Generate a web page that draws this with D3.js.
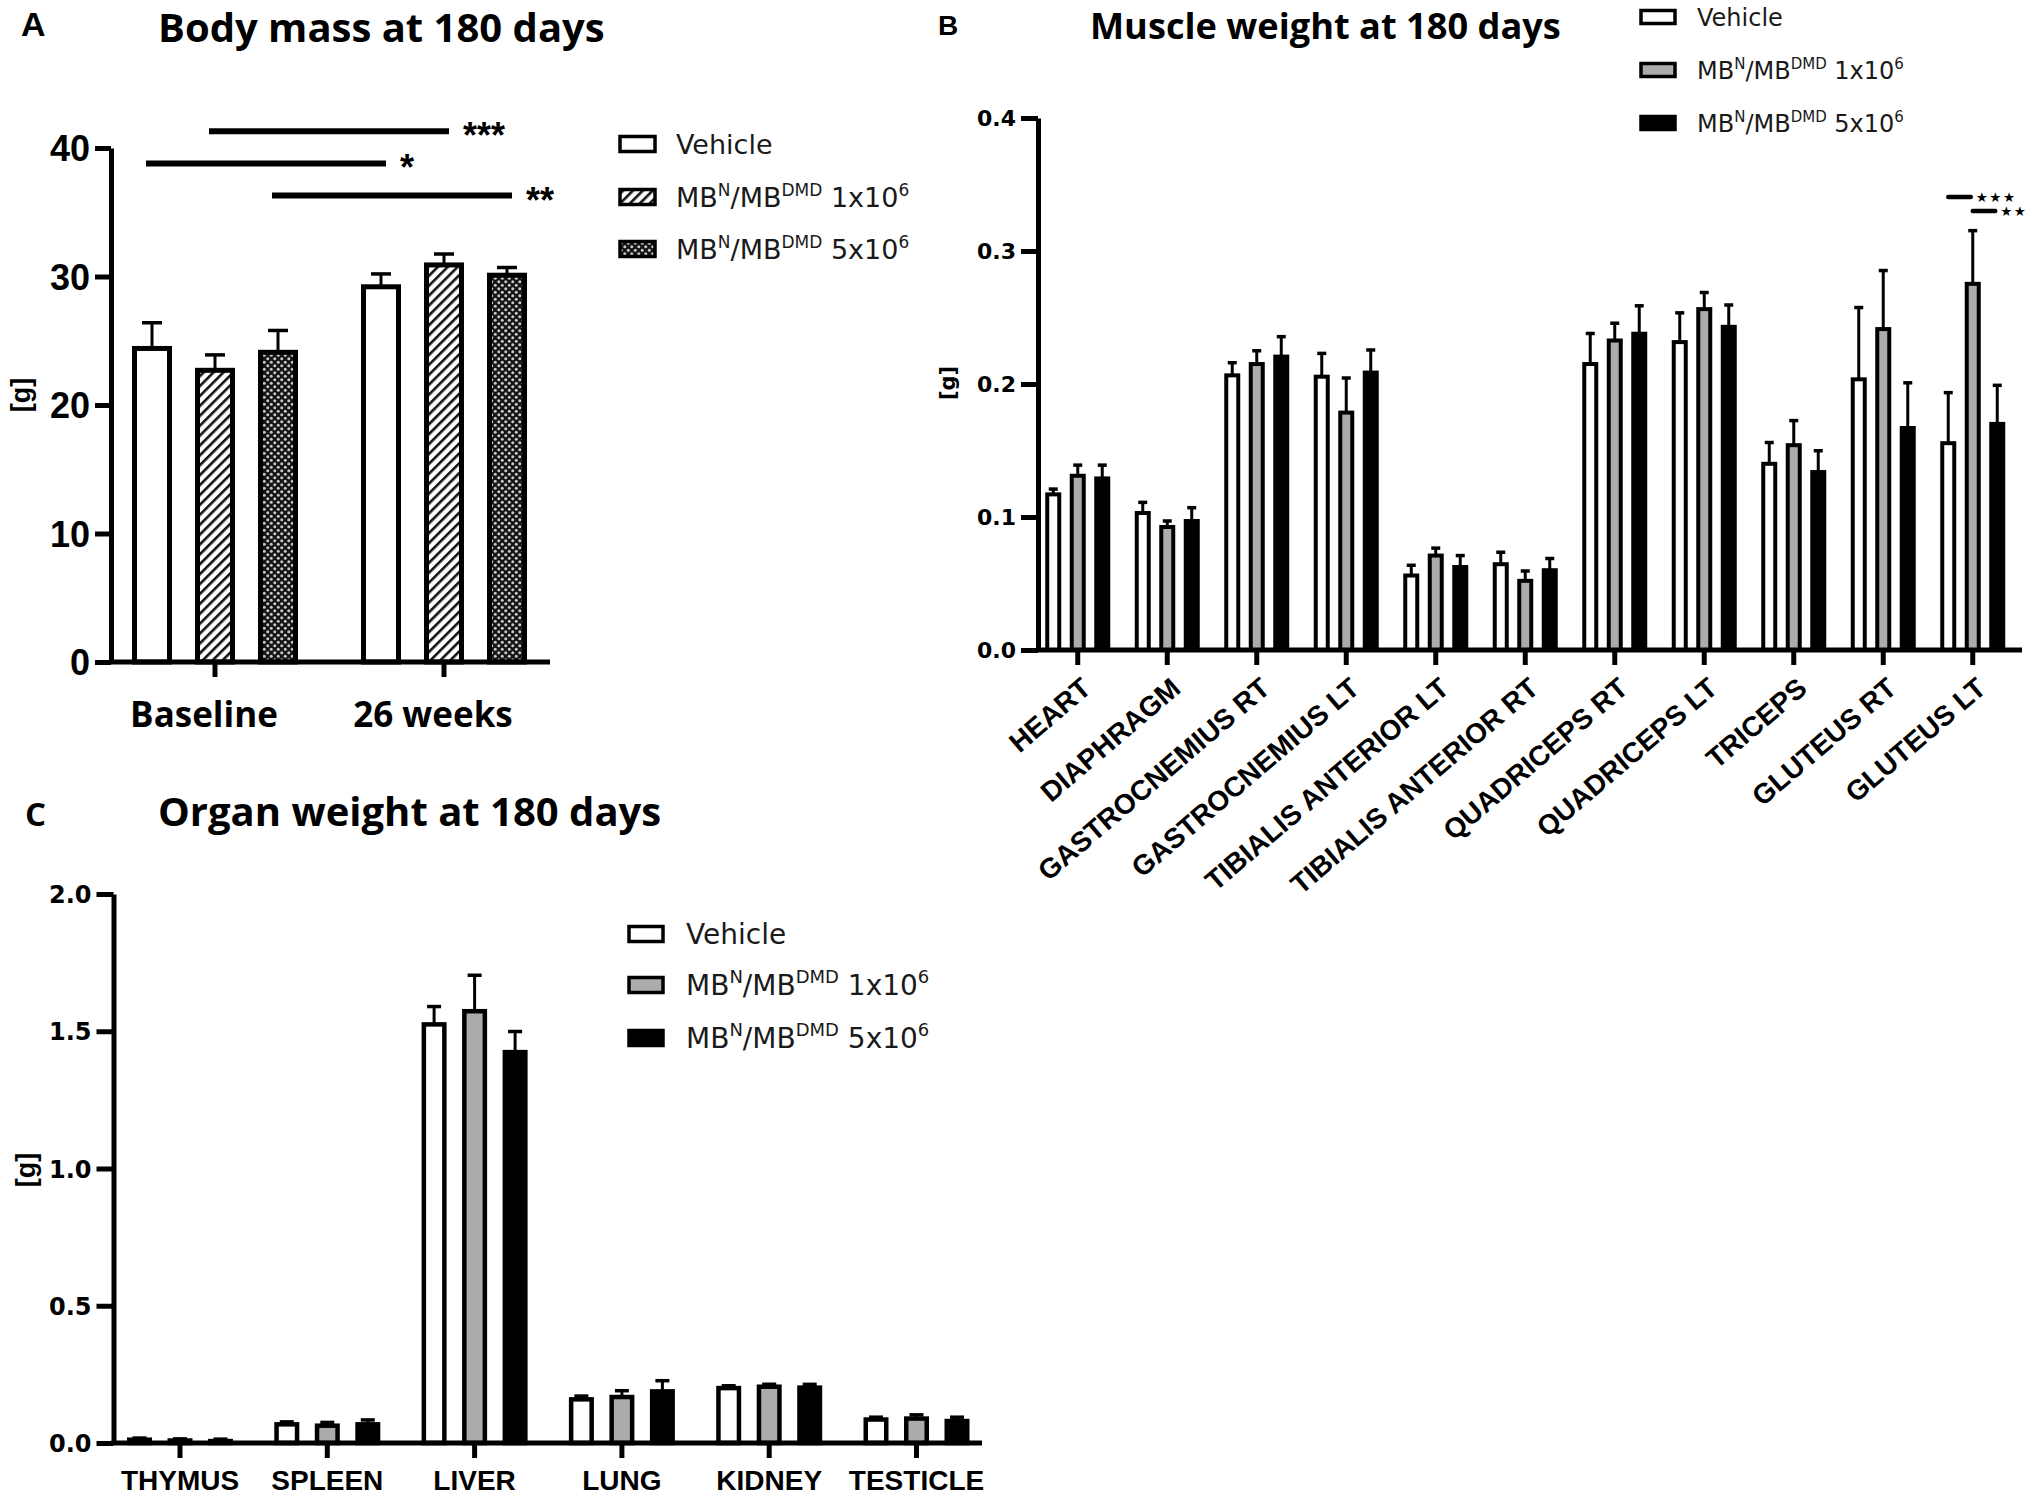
<!DOCTYPE html>
<html><head><meta charset="utf-8">
<script src="https://cdn.jsdelivr.net/npm/d3@7"></script>
<style>body{margin:0;background:#fff}</style>
</head><body>
<svg id="c" width="2030" height="1496"></svg>
<script>
// ================= DATA =================
const seriesIds = [0, 1, 2];
const legendVehicle = [["Vehicle", 0]];
const legendLow = [["MB", 0], ["N", 1], ["/MB", 0], ["DMD", 1], [" 1x10", 0], ["6", 1]];
const legendHigh = [["MB", 0], ["N", 1], ["/MB", 0], ["DMD", 1], [" 5x10", 0], ["6", 1]];

// Panel A – body mass
const bodyCategories = ["Baseline", "26 weeks"];
const bodyVehicle = [24.4, 29.2];
const bodyVehicleSem = [2.0, 1.0];
const bodyLow = [22.7, 30.9];
const bodyLowSem = [1.2, 0.85];
const bodyHigh = [24.1, 30.1];
const bodyHighSem = [1.7, 0.6];
const bodyTicks = [0, 10, 20, 30, 40];
const bodySigSeries = [1, 0, 2];
const bodySigY = [41.3, 38.8, 36.3];
const bodySigLabel = ["***", "*", "**"];

// Panel B – muscle weight
const muscleCategories = ["HEART", "DIAPHRAGM", "GASTROCNEMIUS RT", "GASTROCNEMIUS LT",
  "TIBIALIS ANTERIOR LT", "TIBIALIS ANTERIOR RT", "QUADRICEPS RT", "QUADRICEPS LT",
  "TRICEPS", "GLUTEUS RT", "GLUTEUS LT"];
const muscleVehicle = [0.117, 0.103, 0.2065, 0.2055, 0.056, 0.0645, 0.215, 0.2315, 0.140, 0.2035, 0.1555];
const muscleVehicleSem = [0.004, 0.008, 0.0095, 0.0175, 0.0077, 0.009, 0.023, 0.022, 0.016, 0.054, 0.038];
const muscleLow = [0.131, 0.0925, 0.215, 0.1785, 0.071, 0.052, 0.2327, 0.2563, 0.154, 0.2413, 0.2753];
const muscleLowSem = [0.008, 0.0045, 0.010, 0.026, 0.0056, 0.0074, 0.013, 0.0125, 0.0185, 0.044, 0.040];
const muscleHigh = [0.129, 0.097, 0.2206, 0.2086, 0.0624, 0.060, 0.2378, 0.243, 0.1338, 0.1669, 0.170];
const muscleHighSem = [0.010, 0.010, 0.015, 0.017, 0.0086, 0.0088, 0.021, 0.0164, 0.016, 0.034, 0.029];
const muscleTicks = [0, 0.1, 0.2, 0.3, 0.4];
const muscleSigCategory = ["GLUTEUS LT", "GLUTEUS LT"];
const muscleSigFrom = [0, 1];
const muscleSigTo = [1, 2];
const muscleSigY = [0.3406, 0.330];
const muscleSigLabel = ["★★★", "★★"];

// Panel C – organ weight
const organCategories = ["THYMUS", "SPLEEN", "LIVER", "LUNG", "KIDNEY", "TESTICLE"];
const organVehicle = [0.012, 0.068, 1.525, 0.159, 0.200, 0.0855];
const organVehicleSem = [0.006, 0.009, 0.065, 0.012, 0.0085, 0.0085];
const organLow = [0.009, 0.063, 1.573, 0.1675, 0.205, 0.089];
const organLowSem = [0.006, 0.012, 0.131, 0.023, 0.009, 0.0136];
const organHigh = [0.007, 0.068, 1.424, 0.188, 0.2017, 0.080];
const organHighSem = [0.007, 0.016, 0.075, 0.039, 0.012, 0.014];
const organTicks = [0, 0.5, 1.0, 1.5, 2.0];

// ================= DRAWING =================
const FT_TITLE = "'Open Sans', sans-serif";
const FT_ARIAL = "'Liberation Sans', Arial, sans-serif";
const FT_NARROW = "'Liberation Sans Narrow', 'Arial Narrow', 'Liberation Sans', sans-serif";
const FT_WIDE = "'DejaVu Sans', sans-serif";

const svg = d3.select("#c");
svg.append("rect").attr("width", 2030).attr("height", 1496).attr("fill", "#fff");
const defs = svg.append("defs");

// hatch pattern
const ph = defs.append("pattern").attr("id", "hatch").attr("patternUnits", "userSpaceOnUse")
  .attr("width", 7).attr("height", 7).attr("patternTransform", "rotate(45)");
ph.append("rect").attr("width", 7).attr("height", 7).attr("fill", "#fff");
ph.append("rect").attr("x", 0).attr("width", 2.6).attr("height", 7).attr("fill", "#111");
// dotted pattern
const pd = defs.append("pattern").attr("id", "dots").attr("patternUnits", "userSpaceOnUse")
  .attr("width", 7).attr("height", 7);
pd.append("rect").attr("width", 7).attr("height", 7).attr("fill", "#151515");
pd.append("circle").attr("cx", 1.75).attr("cy", 1.75).attr("r", 1.5).attr("fill", "#c8c8c8");
pd.append("circle").attr("cx", 5.25).attr("cy", 5.25).attr("r", 1.5).attr("fill", "#c8c8c8");

function addText(g, x, y, str, font, size, weight, anchor) {
  return g.append("text").attr("x", x).attr("y", y).text(str)
    .attr("font-family", font).attr("font-size", size)
    .attr("font-weight", weight || "normal").attr("text-anchor", anchor || "start").attr("fill", "#000");
}

function drawLegend(g, labels, fills, rowsY, boxX, boxW, boxH, textX, fs) {
  labels.forEach((parts, i) => {
    const ry = rowsY[i];
    g.append("rect").attr("x", boxX).attr("y", ry - boxH / 2).attr("width", boxW).attr("height", boxH)
      .attr("fill", fills[i]).attr("stroke", "#000").attr("stroke-width", 3.5);
    const t = g.append("text").attr("x", textX).attr("y", ry + fs * 0.36)
      .attr("font-family", FT_WIDE).attr("font-size", fs).attr("fill", "#1a1a1a");
    const sup = Math.round(fs * 0.64), raise = Math.round(fs * 0.42);
    let up = false;
    parts.forEach(([s, isSup]) => {
      const ts = t.append("tspan").text(s);
      if (isSup && !up) { ts.attr("dy", -raise).attr("font-size", sup); up = true; }
      else if (isSup) { ts.attr("font-size", sup); }
      else if (up) { ts.attr("dy", raise); up = false; }
    });
  });
}

function drawBars(g, cats, means, sems, x, xi, y, barOuter, stroke, capW, fills) {
  means.forEach((vals, s) => {
    vals.forEach((v, i) => {
      const cx = x(cats[i]) + x.bandwidth() / 2 + xi(s) + xi.bandwidth() / 2;
      const w = barOuter - stroke;
      g.append("rect").attr("x", cx - w / 2).attr("y", y(v)).attr("width", w)
        .attr("height", y(0) - y(v)).attr("fill", fills[s]).attr("stroke", "#000").attr("stroke-width", stroke);
      const top = y(v + sems[s][i]);
      g.append("line").attr("x1", cx).attr("x2", cx).attr("y1", y(v)).attr("y2", top)
        .attr("stroke", "#000").attr("stroke-width", 3);
      g.append("line").attr("x1", cx - capW / 2).attr("x2", cx + capW / 2).attr("y1", top).attr("y2", top)
        .attr("stroke", "#000").attr("stroke-width", 3.5);
    });
  });
}

function styleAxis(ax, sw) {
  ax.selectAll("path.domain").attr("stroke", "#000").attr("stroke-width", sw);
  ax.selectAll(".tick line").attr("stroke", "#000").attr("stroke-width", sw);
}

// ---------- Panel A ----------
{
  const g = svg.append("g");
  const y = d3.scaleLinear().domain([0, 40]).range([662, 148]);
  const x = d3.scaleBand().domain(bodyCategories).range([100.5, 558.5]);
  const xi = d3.scaleBand().domain(seriesIds).range([-94.5, 94.5]);
  const fills = ["#fff", "url(#hatch)", "url(#dots)"];
  drawBars(g, bodyCategories, [bodyVehicle, bodyLow, bodyHigh], [bodyVehicleSem, bodyLowSem, bodyHighSem],
    x, xi, y, 40, 5, 20, fills);

  const ay = g.append("g").attr("transform", `translate(111,0)`)
    .call(d3.axisLeft(y).tickValues(bodyTicks).tickSize(16).tickSizeOuter(0).tickPadding(5).tickFormat(d3.format("d")));
  styleAxis(ay, 5);
  ay.selectAll("text").attr("font-family", FT_NARROW).attr("font-weight", "bold").attr("font-size", 36).attr("dy", "0.36em");

  const ax = g.append("g").attr("transform", `translate(0,${y(0)})`)
    .call(d3.axisBottom(x).tickSize(15).tickSizeOuter(0));
  ax.select("path.domain").remove();
  ax.append("line").attr("x1", 109).attr("x2", 550).attr("stroke", "#000").attr("stroke-width", 5);
  styleAxis(ax, 5);
  ax.selectAll(".tick text").attr("font-family", FT_TITLE).attr("font-weight", "bold").attr("font-size", 35)
    .attr("x", -11).attr("y", 65).attr("dy", 0);

  // significance
  bodySigSeries.forEach((s, k) => {
    const c1 = x(bodyCategories[0]) + x.bandwidth() / 2 + xi(s) + xi.bandwidth() / 2;
    const c2 = x(bodyCategories[1]) + x.bandwidth() / 2 + xi(s) + xi.bandwidth() / 2;
    const yy = y(bodySigY[k]);
    g.append("line").attr("x1", c1 - 6).attr("x2", c2 + 5).attr("y1", yy).attr("y2", yy)
      .attr("stroke", "#000").attr("stroke-width", 6);
    addText(g, c2 + 19, yy + 17, bodySigLabel[k], FT_ARIAL, 36, "bold");
  });

  drawLegend(g, [legendVehicle, legendLow, legendHigh], fills, [144, 197, 249], 620, 35, 15, 676, 27);

  addText(g, 21, 36, "A", FT_ARIAL, 34, "bold");
  addText(g, 158, 42, "Body mass at 180 days", FT_TITLE, 40, "bold");
  addText(g, 0, 0, "[g]", FT_ARIAL, 27, "bold", "middle").attr("transform", "translate(30,395) rotate(-90)");
}

// ---------- Panel B ----------
{
  const g = svg.append("g");
  const y = d3.scaleLinear().domain([0, 0.4]).range([650, 118]);
  const x = d3.scaleBand().domain(muscleCategories).range([1033, 2017.5]);
  const xi = d3.scaleBand().domain(seriesIds).range([-36.75, 36.75]);
  const fills = ["#fff", "#ababab", "#000"];
  drawBars(g, muscleCategories, [muscleVehicle, muscleLow, muscleHigh], [muscleVehicleSem, muscleLowSem, muscleHighSem],
    x, xi, y, 16, 4, 9, fills);

  const ay = g.append("g").attr("transform", `translate(1038,0)`)
    .call(d3.axisLeft(y).tickValues(muscleTicks).tickSize(17).tickSizeOuter(0).tickPadding(5).tickFormat(d3.format(".1f")));
  styleAxis(ay, 5);
  ay.selectAll("text").attr("font-family", FT_WIDE).attr("font-weight", "bold").attr("font-size", 22).attr("dy", "0.36em");

  const ax = g.append("g").attr("transform", `translate(0,${y(0)})`)
    .call(d3.axisBottom(x).tickSize(15).tickSizeOuter(0));
  ax.select("path.domain").remove();
  ax.append("line").attr("x1", 1036).attr("x2", 2022).attr("stroke", "#000").attr("stroke-width", 5);
  styleAxis(ax, 5);
  ax.selectAll(".tick text").attr("font-family", FT_ARIAL).attr("font-weight", "bold").attr("font-size", 28)
    .attr("text-anchor", "end").attr("x", 0).attr("y", 0).attr("dy", 0)
    .attr("transform", "translate(15,41) rotate(-40.5)");

  muscleSigCategory.forEach((cat, k) => {
    const c1 = x(cat) + x.bandwidth() / 2 + xi(muscleSigFrom[k]) + xi.bandwidth() / 2;
    const c2 = x(cat) + x.bandwidth() / 2 + xi(muscleSigTo[k]) + xi.bandwidth() / 2;
    const yy = y(muscleSigY[k]);
    g.append("line").attr("x1", c1).attr("x2", c2 - 2).attr("y1", yy).attr("y2", yy)
      .attr("stroke", "#000").attr("stroke-width", 4.5).attr("stroke-linecap", "round");
    addText(g, c2 + 3, yy + 5, muscleSigLabel[k], FT_WIDE, 13.5, "normal").attr("letter-spacing", 1.5);
  });

  drawLegend(g, [legendVehicle, legendLow, legendHigh], fills, [17, 70, 123], 1641, 34, 13, 1697, 24);

  addText(g, 938, 35, "B", FT_ARIAL, 28, "bold");
  addText(g, 1090, 39, "Muscle weight at 180 days", FT_TITLE, 36.2, "bold");
  addText(g, 0, 0, "[g]", FT_WIDE, 21, "bold", "middle").attr("transform", "translate(955,383) rotate(-90)");
}

// ---------- Panel C ----------
{
  const g = svg.append("g");
  const y = d3.scaleLinear().domain([0, 2]).range([1443, 894]);
  const x = d3.scaleBand().domain(organCategories).range([106.35, 990.15]);
  const xi = d3.scaleBand().domain(seriesIds).range([-60.75, 60.75]);
  const fills = ["#fff", "#ababab", "#000"];
  drawBars(g, organCategories, [organVehicle, organLow, organHigh], [organVehicleSem, organLowSem, organHighSem],
    x, xi, y, 25, 4.5, 14, fills);

  const ay = g.append("g").attr("transform", `translate(113.5,0)`)
    .call(d3.axisLeft(y).tickValues(organTicks).tickSize(17).tickSizeOuter(0).tickPadding(5).tickFormat(d3.format(".1f")));
  styleAxis(ay, 5);
  ay.selectAll("text").attr("font-family", FT_WIDE).attr("font-weight", "bold").attr("font-size", 24).attr("dy", "0.36em");

  const ax = g.append("g").attr("transform", `translate(0,${y(0)})`)
    .call(d3.axisBottom(x).tickSize(15).tickSizeOuter(0));
  ax.select("path.domain").remove();
  ax.append("line").attr("x1", 111).attr("x2", 982).attr("stroke", "#000").attr("stroke-width", 5);
  styleAxis(ax, 5);
  ax.selectAll(".tick text").attr("font-family", FT_ARIAL).attr("font-weight", "bold").attr("font-size", 28)
    .attr("y", 47).attr("dy", 0);

  drawLegend(g, [legendVehicle, legendLow, legendHigh], fills, [934, 985, 1038], 629, 34, 15, 686, 28);

  addText(g, 25, 826, "C", FT_TITLE, 33, "bold");
  addText(g, 158, 826, "Organ weight at 180 days", FT_TITLE, 40, "bold");
  addText(g, 0, 0, "[g]", FT_ARIAL, 27, "bold", "middle").attr("transform", "translate(35,1170) rotate(-90)");
}
</script>
</body></html>
